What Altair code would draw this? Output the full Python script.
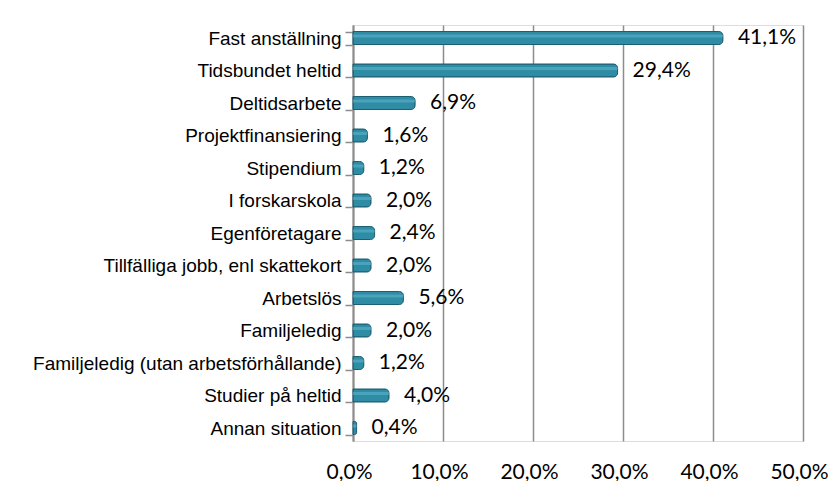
import altair as alt
import pandas as pd

categories = [
    "Fast anställning",
    "Tidsbundet heltid",
    "Deltidsarbete",
    "Projektfinansiering",
    "Stipendium",
    "I forskarskola",
    "Egenföretagare",
    "Tillfälliga jobb, enl skattekort",
    "Arbetslös",
    "Familjeledig",
    "Familjeledig (utan arbetsförhållande)",
    "Studier på heltid",
    "Annan situation",
]
values = [41.1, 29.4, 6.9, 1.6, 1.2, 2.0, 2.4, 2.0, 5.6, 2.0, 1.2, 4.0, 0.4]
x_ticks = [0, 10, 20, 30, 40, 50]

df = pd.DataFrame({"cat": categories, "val": values})
df["label"] = [f"{v:.1f}%".replace(".", ",") for v in values]

y_enc = alt.Y(
    "cat:N",
    sort=categories,
    title=None,
    scale=alt.Scale(paddingInner=0.6, paddingOuter=0.2),
    axis=alt.Axis(
        labelFont="Liberation Sans",
        labelFontSize=19,
        labelColor="#000000",
        labelPadding=4,
        tickBand="extent",
        tickColor="#8c8c8c",
        tickSize=8,
        tickWidth=1.5,
        domainColor="#8c8c8c",
        domainWidth=2,
        labelLimit=400,
    ),
)

x_enc = alt.X(
    "val:Q",
    title=None,
    scale=alt.Scale(domain=[0, 50], nice=False),
    axis=alt.Axis(
        values=x_ticks,
        labelExpr="replace(format(datum.value, '.1f'), '.', ',') + '%'",
        labelFont="Lato",
        labelFontSize=21,
        labelColor="#000000",
        labelPadding=20,
        labelOffset=-4,
        labelOverlap=False,
        labelBound=False,
        labelFlush=False,
        ticks=False,
        domain=False,
        grid=True,
        gridColor="#8c8c8c",
        gridWidth=1.5,
    ),
)

bars = alt.Chart(df).mark_bar(
    color="#2E8CA5",
    stroke="#1C5F72",
    strokeWidth=1,
    cornerRadiusEnd=4,
).encode(x=x_enc, y=y_enc)

highlight = alt.Chart(df).mark_bar(
    color="#5FB3C9",
    opacity=0.6,
    size=3,
    yOffset=-2,
).encode(x="val:Q", y=alt.Y("cat:N", sort=categories))

text = alt.Chart(df).mark_text(
    align="left",
    baseline="middle",
    dx=15,
    font="Lato",
    fontSize=21,
    color="#000000",
).encode(x="val:Q", y=alt.Y("cat:N", sort=categories), text="label:N")

chart = (
    alt.layer(bars, highlight, text)
    .properties(
        width=450,
        height=416,
        autosize=alt.AutoSizeParams(type="none"),
        padding={"left": 345, "top": 17, "right": 27, "bottom": 40},
    )
    .configure_view(stroke=None)
    .configure(background="#ffffff")
)

chart.save("out.html", embed_options={"renderer": "svg", "actions": False})
